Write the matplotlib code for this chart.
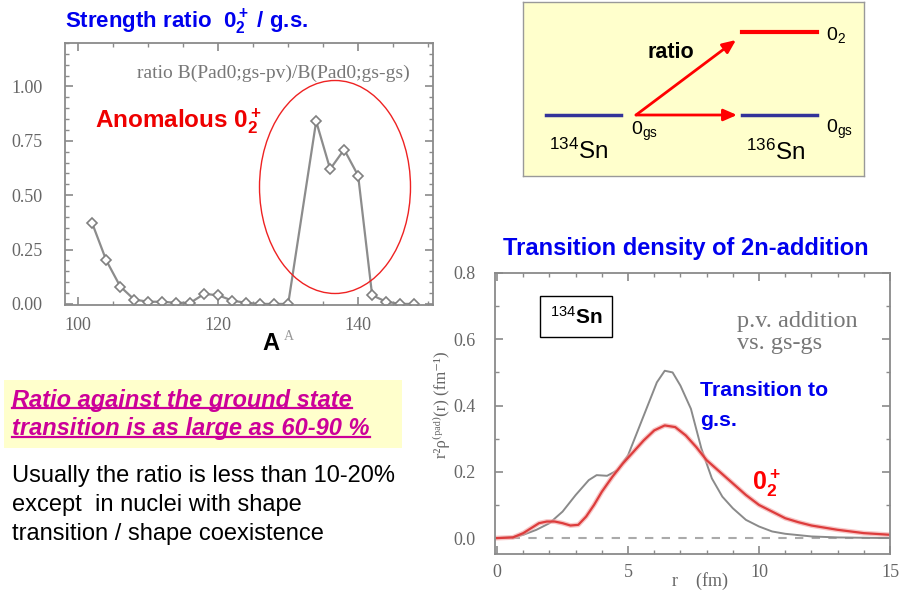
import numpy as np
import matplotlib
matplotlib.use("Agg")
import matplotlib.pyplot as plt
from matplotlib.patches import Ellipse, Rectangle
from matplotlib.lines import Line2D
from matplotlib.ticker import MultipleLocator, FormatStrFormatter

plt.rcParams['font.family'] = ['Liberation Sans', 'DejaVu Sans']
plt.rcParams['mathtext.fontset'] = 'custom'
plt.rcParams['mathtext.rm'] = 'Liberation Sans'
plt.rcParams['mathtext.it'] = 'Liberation Sans:italic'
plt.rcParams['mathtext.bf'] = 'Liberation Sans:bold'

# strength ratio B(0_2)/B(gs) vs mass number
mass_A = [102, 104, 106, 108, 110, 112, 114, 116, 118, 120, 122, 124, 126, 128, 130,
          134, 136, 138, 140, 142, 144, 146, 148]
ratio = [0.37, 0.20, 0.08, 0.02, 0.01, 0.01, 0.005, 0.005, 0.046, 0.04, 0.015, 0.005,
         0.0, 0.0, 0.0, 0.84, 0.62, 0.71, 0.59, 0.04, 0.01, 0.0, 0.0]

# transition density, 134Sn -> 136Sn (gs)
r_gs = [0, 0.6, 1.0, 1.5, 2.0, 2.5, 3.0, 3.5, 3.8, 4.2, 4.6, 5.0, 5.4, 5.8, 6.1, 6.4,
        6.7, 7.0, 7.4, 7.8, 8.2, 8.6, 9.0, 9.5, 10.0, 10.5, 11.0, 12.0, 13.0, 14.0, 15.0]
rho_gs = [0, 0.003, 0.01, 0.025, 0.045, 0.08, 0.13, 0.175, 0.19, 0.188, 0.205, 0.25,
          0.33, 0.41, 0.47, 0.505, 0.50, 0.46, 0.39, 0.27, 0.18, 0.125, 0.09, 0.055,
          0.035, 0.02, 0.013, 0.005, 0.002, 0.001, 0.0]
# transition density, 134Sn -> 136Sn (0_2+)
r_02 = [0, 0.6, 1.0, 1.3, 1.6, 1.9, 2.2, 2.5, 2.8, 3.1, 3.4, 3.7, 4.0, 4.4, 4.8, 5.2,
        5.6, 6.0, 6.4, 6.8, 7.2, 7.6, 8.0, 8.5, 9.0, 9.5, 10.0, 10.5, 11.0, 11.5, 12.0,
        13.0, 14.0, 15.0]
rho_02 = [0, 0.002, 0.015, 0.03, 0.045, 0.05, 0.05, 0.045, 0.038, 0.04, 0.065, 0.10,
          0.14, 0.185, 0.225, 0.26, 0.295, 0.325, 0.34, 0.335, 0.31, 0.275, 0.235,
          0.20, 0.165, 0.13, 0.10, 0.08, 0.06, 0.048, 0.038, 0.025, 0.015, 0.01]

W, H = 900, 590
fig = plt.figure(figsize=(9, 5.9), dpi=100)

def fx(x):
    return x / W

def fy(y):
    return 1 - y / H

def ftext(x, y, s, **kw):
    return fig.text(fx(x), fy(y), s, **kw)

serif = ['Liberation Serif', 'DejaVu Serif']
grey = '#666666'

def style_axes(ax):
    for sp in ax.spines.values():
        sp.set_color('#8a8a8a')
        sp.set_linewidth(1.3)
    ax.tick_params(which='both', direction='in', top=True, right=True, color='#8a8a8a',
                   labelcolor=grey, labelsize=13)
    ax.tick_params(which='major', length=6, width=1.2)
    ax.tick_params(which='minor', length=3, width=1)
    for lab in ax.get_xticklabels() + ax.get_yticklabels():
        lab.set_family(serif)

# ---- left panel
ax1 = fig.add_axes([fx(65), fy(305), fx(368), 262 / H])
ax1.plot(mass_A, ratio, color='#8c8c8c', lw=1.6, marker='D', ms=5.5,
         mfc='white', mec='#808080', mew=1.2)
ax1.set_xlim(98.1, 150.7)
ax1.set_ylim(-0.005, 1.2)
ax1.xaxis.set_major_locator(MultipleLocator(20))
ax1.xaxis.set_minor_locator(MultipleLocator(5))
ax1.yaxis.set_major_locator(MultipleLocator(0.25))
ax1.yaxis.set_minor_locator(MultipleLocator(0.05))
ax1.set_yticks([0, 0.25, 0.5, 0.75, 1.0])
ax1.yaxis.set_major_formatter(FormatStrFormatter('%.2f'))
ax1.tick_params(axis='y', pad=16)
ax1.tick_params(axis='x', pad=9)
style_axes(ax1)
ax1.text(0.196, 0.885, 'ratio B(Pad0;gs-pv)/B(Pad0;gs-gs)', transform=ax1.transAxes,
         family=serif, fontsize=14, color='#777777', va='center')

ftext(65, 22, r'Strength ratio  0$\mathbf{_2^+}$ / g.s.', color='#0000ee',
      fontsize=16, fontweight='bold', va='center')
ftext(95, 121, r'Anomalous 0$\mathbf{_2^+}$', color='#ee0000', fontsize=17.5,
      fontweight='bold', va='center')
ftext(262, 343, 'A', fontsize=17, fontweight='bold', va='center')
ftext(284, 336, 'A', family=serif, fontsize=10, color='#999999', va='center')
fig.add_artist(Ellipse((fx(335), fy(187)), 151 / W, 213 / H, transform=fig.transFigure,
                       fill=False, ec='#ee2222', lw=1.0))

# ---- level diagram
axd = fig.add_axes([fx(523), fy(176), 341 / W, 174 / H])
axd.set_xlim(523, 864)
axd.set_ylim(176, 2)
axd.set_xticks([])
axd.set_yticks([])
axd.set_facecolor('#ffffcc')
for sp in axd.spines.values():
    sp.set_color('#999999')
    sp.set_linewidth(1)
navy = '#333399'
axd.plot([546, 621], [115, 115], color=navy, lw=2.5)
axd.plot([742, 817], [115, 115], color=navy, lw=2.5)
axd.plot([742, 817], [32, 32], color='#ff0000', lw=3)
axd.annotate('', xy=(737, 115), xytext=(636, 115),
             arrowprops=dict(arrowstyle='-|>,head_length=0.8,head_width=0.35',
                             color='#ff0000', lw=2, shrinkA=0, shrinkB=0))
axd.annotate('', xy=(736, 40), xytext=(636, 115),
             arrowprops=dict(arrowstyle='-|>,head_length=0.8,head_width=0.35',
                             color='#ff0000', lw=2, shrinkA=0, shrinkB=0))
axd.text(579, 151, r'$^{134}$Sn', fontsize=17.5, ha='center', va='center')
axd.text(776, 152, r'$^{136}$Sn', fontsize=17.5, ha='center', va='center')
axd.text(631, 131, r'0$_{\mathrm{gs}}$', fontsize=14, ha='left', va='center')
axd.text(826, 129, r'0$_{\mathrm{gs}}$', fontsize=14, ha='left', va='center')
axd.text(826, 35, r'0$_2$', fontsize=14, ha='left', va='center')
axd.text(671, 52, 'ratio', fontsize=15.5, fontweight='bold', ha='center', va='center')

# ---- right panel
ax2 = fig.add_axes([fx(495), fy(554), 395 / W, 281 / H])
ax2.axhline(0, color='#aaaaaa', lw=1.5, ls=(0, (4, 4)))
ax2.plot(r_gs, rho_gs, color='#8a8a8a', lw=1.4)
ax2.plot(r_02, rho_02, color='#f2a0a0', lw=3.5, alpha=0.6)
ax2.plot(r_02, rho_02, color='#dd3c3c', lw=1.6)
ax2.set_xlim(-0.08, 15)
ax2.set_ylim(-0.048, 0.8)
ax2.xaxis.set_major_locator(MultipleLocator(5))
ax2.xaxis.set_minor_locator(MultipleLocator(1))
ax2.yaxis.set_major_locator(MultipleLocator(0.2))
ax2.yaxis.set_minor_locator(MultipleLocator(0.1))
ax2.yaxis.set_major_formatter(FormatStrFormatter('%.1f'))
ax2.tick_params(axis='y', pad=14)
ax2.tick_params(axis='x', pad=7)
style_axes(ax2)
ftext(737, 321, 'p.v. addition', family=serif, fontsize=17.5, color='#777777',
      va='center')
ftext(737, 343, 'vs. gs-gs', family=serif, fontsize=17.5, color='#777777',
      va='center')
ax2.text(0.205, 0.845, r'$^{134}$Sn', transform=ax2.transAxes, fontsize=15,
         fontweight='bold', ha='center', va='center',
         bbox=dict(boxstyle='square,pad=0.45', fc='white', ec='black', lw=1))
ftext(700, 581, 'r    (fm)', family=serif, fontsize=13, color=grey, ha='center',
      va='center')
ftext(441, 405, 'r²ρ⁽ᵖᵃᵈ⁾(r) (fm⁻¹)', family=serif + ['DejaVu Sans'], fontsize=12,
      color=grey, rotation=90, ha='center', va='center')

ftext(503, 248, 'Transition density of 2n-addition', color='#0000ee', fontsize=17,
      fontweight='bold', va='center')
ftext(700, 391, 'Transition to', color='#0000ee', fontsize=15.3, fontweight='bold',
      va='center')
ftext(700, 421, 'g.s.', color='#0000ee', fontsize=15.3, fontweight='bold', va='center')
ftext(752, 483, r'0$\mathbf{_2^+}$', color='#ff0000', fontsize=18, fontweight='bold',
      va='center')

# ---- bottom-left text
fig.add_artist(Rectangle((fx(4), fy(448)), 398 / W, 68 / H, transform=fig.transFigure,
                         fc='#ffffcc', ec='none'))
mag = '#cc0099'
t1 = ftext(12, 400, 'Ratio against the ground state', color=mag, fontsize=17,
           fontweight='bold', style='italic', va='center')
t2 = ftext(12, 429, 'transition is as large as 60-90 %', color=mag, fontsize=17,
           fontweight='bold', style='italic', va='center')
body = ['Usually the ratio is less than 10-20%',
        'except  in nuclei with shape',
        'transition / shape coexistence']
for i, line in enumerate(body):
    ftext(12, 476 + 29 * i, line, fontsize=17, va='center')

fig.canvas.draw()
r = fig.canvas.get_renderer()
for t in (t1, t2):
    bb = t.get_window_extent(r).transformed(fig.transFigure.inverted())
    yy = bb.y0 + 4 / H
    fig.add_artist(Line2D([bb.x0, bb.x1], [yy, yy], transform=fig.transFigure,
                          color=mag, lw=1.6))

fig.savefig('out.png', dpi=100)
